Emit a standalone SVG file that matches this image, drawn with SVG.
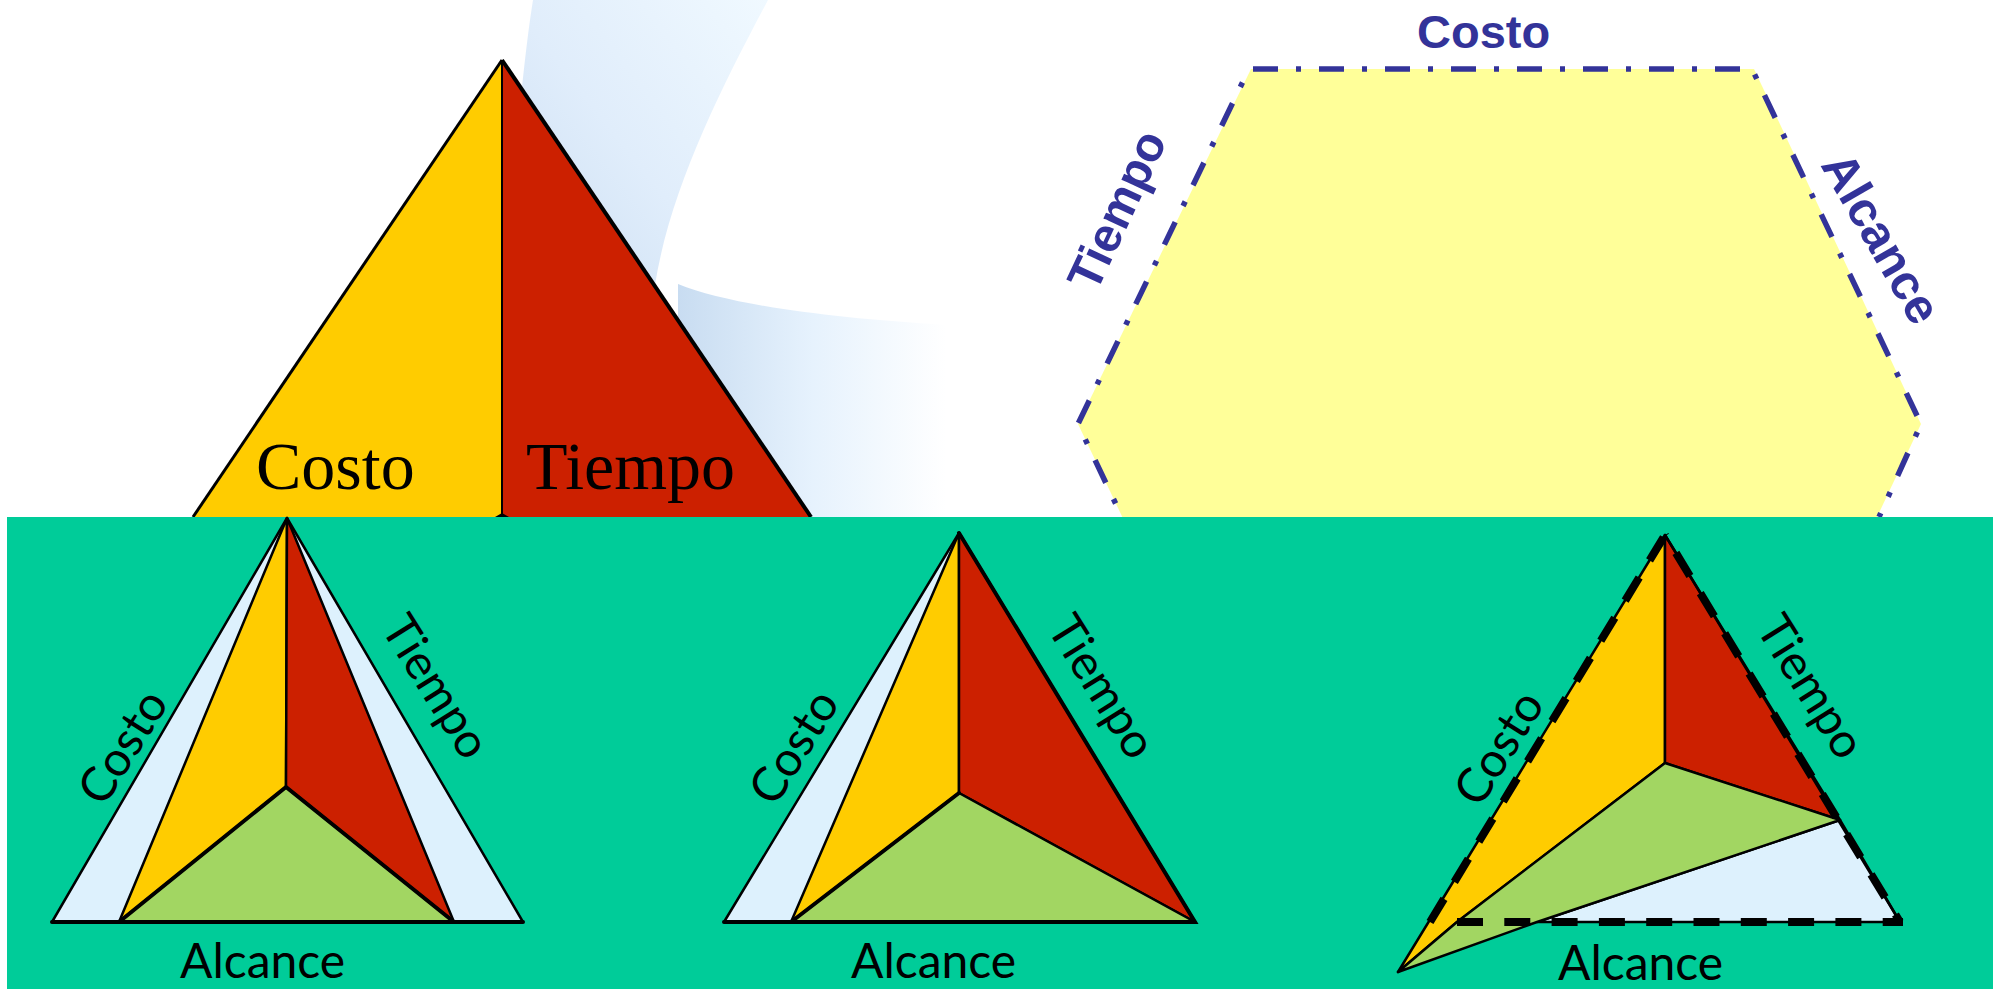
<svg xmlns="http://www.w3.org/2000/svg" width="1993" height="989" viewBox="0 0 1993 989">
<style>
.o{fill:#ffcc00}.r{fill:#cc2000}.g{fill:#a2d662}.l{fill:#ddf1fd}
.s{stroke:#000;stroke-width:2.5;stroke-linejoin:round;stroke-linecap:round}
.b{fill:none;stroke:#000;stroke-width:4;stroke-linecap:round}
.d{fill:none;stroke:#000;stroke-width:8;stroke-dasharray:27 20}
.t{font-family:Lato,"Noto Sans",sans-serif;font-size:48px;fill:#000}
.h{font-family:"Liberation Sans",Arial,sans-serif;font-weight:bold;font-size:47px;fill:#333399}
.k{fill:none;stroke:#333399;stroke-width:5.5;stroke-dasharray:25 18 5 18}
.m{font-family:"Liberation Serif","Times New Roman",serif;font-size:68px;fill:#000}
</style>
<defs>
<linearGradient id="a" x1="1" y1="0" x2="0" y2="1"><stop offset="0" stop-color="#f0f9ff"/><stop offset=".5" stop-color="#e0edfb"/><stop offset="1" stop-color="#c8dcf1"/></linearGradient>
<linearGradient id="c" x1="0" y1="0" x2="1" y2="0"><stop offset="0" stop-color="#c8dcf1"/><stop offset=".5" stop-color="#e6f2fd"/><stop offset="1" stop-color="#fff"/></linearGradient>
</defs>
<rect width="1993" height="989" fill="#fff"/>
<g id="background">
<path d="M533 0H768C720 90 670 190 655 285L640 330L510 200C520 110 525 50 533 0Z" fill="url(#a)"/>
<path d="M678 284C730 305 830 318 946 325V517H678Z" fill="url(#c)"/>
</g>
<g id="triangulo-superior">
<polygon class="o" points="502,60 193,517 502,517"/>
<polygon class="r" points="502,60 811,517 502,517"/>
<path d="M193 517L502 60" fill="none" stroke="#000" stroke-width="3"/>
<path d="M502 60L811 517" fill="none" stroke="#000" stroke-width="4"/>
<path d="M502 60V517" stroke="#000" stroke-width="2"/>
<polygon points="495,517 502,513 509,517" fill="#000"/>
<text class="m" x="256" y="489">Costo</text>
<text class="m" x="526" y="489">Tiempo</text>
</g>
<g id="hexagono">
<polygon points="1251,69 1754,69 1921,424 1800,680 1200,680 1078,424" fill="#ffff99"/>
<path class="k" d="M1253 69H1752L1921 424L1879 517"/>
<path class="k" stroke-dashoffset="28" d="M1249 69L1078 424L1122 517"/>
<text class="h" x="1417" y="48">Costo</text>
<text class="h" transform="translate(1096 294) rotate(-65)" style="font-size:48px">Tiempo</text>
<text class="h" transform="translate(1820 165) rotate(60)" style="font-size:49px">Alcance</text>
</g>
<rect id="fondo-verde" x="7" y="517" width="1986" height="472" fill="#00cc99"/>
<g id="triangulo-1">
<polygon class="l s" points="287,518 52,922 523,922"/>
<polygon class="o s" points="287,518 119,922 286,787"/>
<polygon class="r s" points="287,518 454,922 286,787"/>
<polygon class="g s" points="286,787 119,922 454,922"/>
<path class="b" d="M52 922H523M119 922L286 787L454 922"/>
<text class="t" transform="translate(104 808) rotate(-58)">Costo</text>
<text class="t" transform="translate(380 628) rotate(58)">Tiempo</text>
<text class="t" x="180" y="978">Alcance</text>
</g>
<g id="triangulo-2">
<polygon class="l s" points="959,533 724,922 1195,922"/>
<polygon class="o s" points="959,533 791,922 959,793"/>
<polygon class="r s" points="959,533 1195,922 959,793"/>
<polygon class="g s" points="959,793 791,922 1195,922"/>
<path class="b" d="M724 922H1195L959 533M791 922L959 793"/>
<text class="t" transform="translate(775 808) rotate(-58)">Costo</text>
<text class="t" transform="translate(1046 628) rotate(58)">Tiempo</text>
<text class="t" x="851" y="978">Alcance</text>
</g>
<g id="triangulo-3">
<polygon class="l s" points="1840,820 1900,922 1537,922"/>
<polygon class="o s" points="1665,535 1665,763 1457,922 1398,972"/>
<polygon class="r s" points="1665,535 1665,763 1840,820"/>
<polygon class="g s" points="1665,763 1840,820 1537,922 1398,972 1457,922"/>
<path class="s" fill="none" d="M1665 535L1900 922"/>
<path class="d" d="M1430 922L1665 535"/>
<path class="d" stroke-dashoffset="-21" d="M1665 535L1900 922"/>
<path class="d" style="stroke-dasharray:26 21.3" d="M1457 922H1903"/>
<text class="t" transform="translate(1755 628) rotate(58)">Tiempo</text>
<text class="t" transform="translate(1480 809) rotate(-58)">Costo</text>
<text class="t" x="1558" y="980">Alcance</text>
</g>
</svg>
